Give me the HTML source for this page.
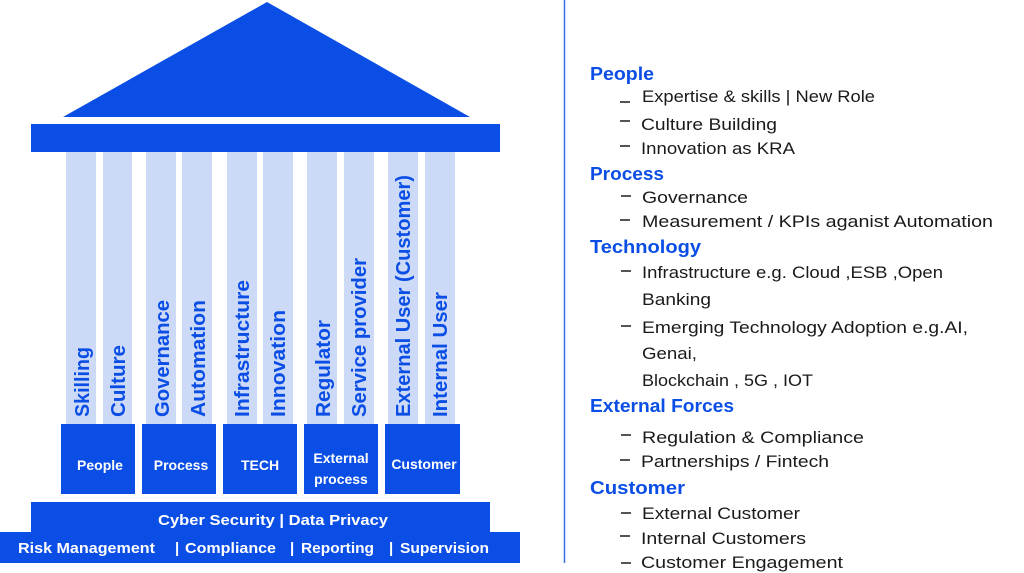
<!DOCTYPE html>
<html><head><meta charset="utf-8"><style>
html,body{margin:0;padding:0;background:#fff;width:1024px;height:573px;overflow:hidden}
svg{display:block}
.h{font-family:"Liberation Sans",sans-serif;font-weight:bold;font-size:18px;fill:#0b4ee6}
.t{font-family:"Liberation Sans",sans-serif;font-size:17px;fill:#1a1a1a}
.d{stroke:#1a1a1a;stroke-width:1.5}
.c{font-family:"Liberation Sans",sans-serif;font-weight:bold;font-size:20px;fill:#0b4ee6}
.w{font-family:"Liberation Sans",sans-serif;font-weight:bold;font-size:14px;fill:#fff}
</style></head><body>
<svg width="1024" height="573" viewBox="0 0 1024 573" xmlns="http://www.w3.org/2000/svg">
<polygon points="267,2 470,117 63,117" fill="#0b4ee6"/>
<rect x="31" y="124" width="469" height="28" fill="#0b4ee6"/>
<g fill="#cddaf7">
<rect x="66" y="152" width="30" height="272"/><rect x="103" y="152" width="29" height="272"/>
<rect x="146" y="152" width="30" height="272"/><rect x="182" y="152" width="30" height="272"/>
<rect x="227" y="152" width="30" height="272"/><rect x="263" y="152" width="30" height="272"/>
<rect x="307" y="152" width="30" height="272"/><rect x="344" y="152" width="30" height="272"/>
<rect x="388" y="152" width="30" height="272"/><rect x="425" y="152" width="30" height="272"/>
</g>
<g class="c" lengthAdjust="spacingAndGlyphs">
<text transform="translate(89,417) rotate(-90)" textLength="70" lengthAdjust="spacingAndGlyphs">Skilling</text>
<text transform="translate(125,417) rotate(-90)" textLength="72" lengthAdjust="spacingAndGlyphs">Culture</text>
<text transform="translate(169,417) rotate(-90)" textLength="117" lengthAdjust="spacingAndGlyphs">Governance</text>
<text transform="translate(205,417) rotate(-90)" textLength="117" lengthAdjust="spacingAndGlyphs">Automation</text>
<text transform="translate(249,417) rotate(-90)" textLength="137" lengthAdjust="spacingAndGlyphs">Infrastructure</text>
<text transform="translate(285,417) rotate(-90)" textLength="107" lengthAdjust="spacingAndGlyphs">Innovation</text>
<text transform="translate(330,417) rotate(-90)" textLength="97" lengthAdjust="spacingAndGlyphs">Regulator</text>
<text transform="translate(366,417) rotate(-90)" textLength="159" lengthAdjust="spacingAndGlyphs">Service provider</text>
<text transform="translate(410,417) rotate(-90)" textLength="242" lengthAdjust="spacingAndGlyphs">External User (Customer)</text>
<text transform="translate(447,417) rotate(-90)" textLength="125" lengthAdjust="spacingAndGlyphs">Internal User</text>
</g>
<g fill="#0b4ee6">
<rect x="61" y="424" width="74" height="70"/><rect x="142" y="424" width="74" height="70"/>
<rect x="223" y="424" width="74" height="70"/><rect x="304" y="424" width="74" height="70"/>
<rect x="385" y="424" width="75" height="70"/>
<rect x="31" y="502" width="459" height="31"/>
<rect x="0" y="532" width="520" height="31"/>
</g>
<g class="w" text-anchor="middle">
<text x="100" y="470">People</text><text x="181" y="470">Process</text>
<text x="260" y="470">TECH</text><text x="341" y="463">External</text><text x="341" y="484">process</text>
<text x="424" y="469">Customer</text>
</g>
<g class="w" style="font-size:15px">
<text x="158" y="525" textLength="230" lengthAdjust="spacingAndGlyphs">Cyber Security | Data Privacy</text>
<text x="18" y="553" textLength="137" lengthAdjust="spacingAndGlyphs">Risk Management</text>
<text x="175" y="553">|</text>
<text x="185" y="553" textLength="91" lengthAdjust="spacingAndGlyphs">Compliance</text>
<text x="290" y="553">|</text>
<text x="301" y="553" textLength="73" lengthAdjust="spacingAndGlyphs">Reporting</text>
<text x="389" y="553">|</text>
<text x="400" y="553" textLength="89" lengthAdjust="spacingAndGlyphs">Supervision</text>
</g>
<line x1="564.5" y1="0" x2="564.5" y2="563" stroke="#3b6fe8" stroke-width="1.5"/>
<g class="h">
<text x="590" y="80" textLength="64" lengthAdjust="spacingAndGlyphs">People</text>
<text x="590" y="180" textLength="74" lengthAdjust="spacingAndGlyphs">Process</text>
<text x="590" y="253" textLength="111" lengthAdjust="spacingAndGlyphs">Technology</text>
<text x="590" y="412" textLength="144" lengthAdjust="spacingAndGlyphs">External Forces</text>
<text x="590" y="494" textLength="95" lengthAdjust="spacingAndGlyphs">Customer</text>
</g>
<g class="d">
<line x1="620" y1="102" x2="630" y2="102"/>
<line x1="620" y1="121" x2="630" y2="121"/>
<line x1="620" y1="146" x2="630" y2="146"/>
<line x1="621" y1="196" x2="631" y2="196"/>
<line x1="620" y1="220" x2="630" y2="220"/>
<line x1="621" y1="271" x2="631" y2="271"/>
<line x1="621" y1="326" x2="631" y2="326"/>
<line x1="621" y1="435" x2="631" y2="435"/>
<line x1="620" y1="460" x2="630" y2="460"/>
<line x1="621" y1="513" x2="631" y2="513"/>
<line x1="620" y1="536" x2="630" y2="536"/>
<line x1="621" y1="563" x2="631" y2="563"/>
</g>
<g class="t">
<text x="642" y="102" textLength="233" lengthAdjust="spacingAndGlyphs">Expertise &amp; skills |  New Role</text>
<text x="641" y="130" textLength="136" lengthAdjust="spacingAndGlyphs">Culture Building</text>
<text x="641" y="154" textLength="154" lengthAdjust="spacingAndGlyphs">Innovation as KRA</text>
<text x="642" y="203" textLength="106" lengthAdjust="spacingAndGlyphs">Governance</text>
<text x="642" y="227" textLength="351" lengthAdjust="spacingAndGlyphs">Measurement / KPIs aganist Automation</text>
<text x="642" y="278" textLength="301" lengthAdjust="spacingAndGlyphs">Infrastructure e.g. Cloud ,ESB ,Open</text>
<text x="642" y="305" textLength="69" lengthAdjust="spacingAndGlyphs">Banking</text>
<text x="642" y="333" textLength="326" lengthAdjust="spacingAndGlyphs">Emerging Technology Adoption e.g.AI,</text>
<text x="642" y="359" textLength="55" lengthAdjust="spacingAndGlyphs">Genai,</text>
<text x="642" y="386" textLength="171" lengthAdjust="spacingAndGlyphs">Blockchain , 5G , IOT</text>
<text x="642" y="443" textLength="222" lengthAdjust="spacingAndGlyphs">Regulation &amp; Compliance</text>
<text x="641" y="467" textLength="188" lengthAdjust="spacingAndGlyphs">Partnerships / Fintech</text>
<text x="642" y="519" textLength="158" lengthAdjust="spacingAndGlyphs">External Customer</text>
<text x="641" y="544" textLength="165" lengthAdjust="spacingAndGlyphs">Internal Customers</text>
<text x="641" y="568" textLength="202" lengthAdjust="spacingAndGlyphs">Customer Engagement</text>
</g>
</svg>
</body></html>
